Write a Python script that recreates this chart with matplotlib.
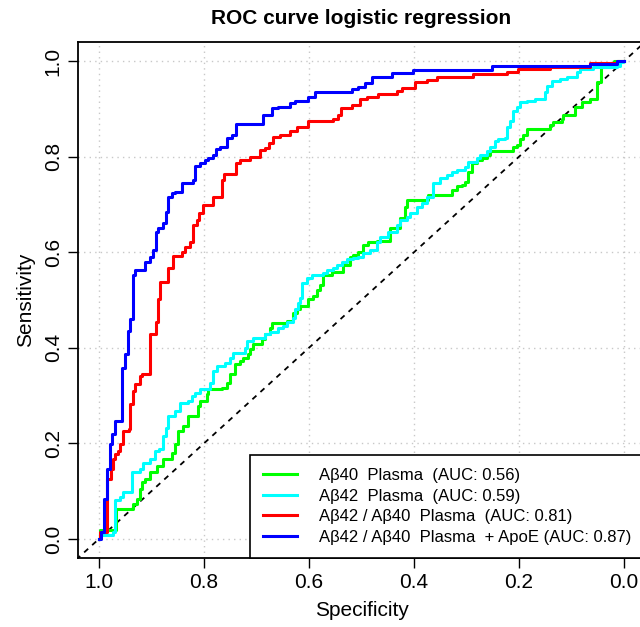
import matplotlib
matplotlib.use("Agg")
import matplotlib.pyplot as plt

# ROC curves: (specificity, sensitivity) step vertices
spec_ab40 = [1.0, 0.998, 0.968, 0.935, 0.928, 0.922, 0.918, 0.912, 0.903, 0.890,
             0.878, 0.861, 0.855, 0.850, 0.840, 0.830, 0.811, 0.808, 0.794, 0.792,
             0.766, 0.756, 0.750, 0.741, 0.731, 0.726, 0.716, 0.712, 0.707, 0.690,
             0.684, 0.674, 0.670, 0.642, 0.630, 0.623, 0.617, 0.602, 0.592, 0.585,
             0.579, 0.573, 0.556, 0.535, 0.522, 0.516, 0.507, 0.497, 0.488, 0.470,
             0.446, 0.427, 0.417, 0.413, 0.373, 0.328, 0.318, 0.309, 0.303, 0.297,
             0.290, 0.280, 0.270, 0.261, 0.255, 0.211, 0.204, 0.198, 0.192, 0.185,
             0.141, 0.135, 0.118, 0.116, 0.093, 0.080, 0.065, 0.051, 0.044, 0.027,
             0.019, 0.0]
sens_ab40 = [0.0, 0.019, 0.063, 0.072, 0.084, 0.105, 0.120, 0.126, 0.141, 0.152,
             0.168, 0.179, 0.198, 0.225, 0.236, 0.257, 0.278, 0.288, 0.303, 0.314,
             0.316, 0.326, 0.345, 0.366, 0.373, 0.379, 0.387, 0.398, 0.408, 0.419,
             0.429, 0.442, 0.451, 0.457, 0.472, 0.482, 0.488, 0.503, 0.509, 0.520,
             0.531, 0.552, 0.558, 0.573, 0.589, 0.594, 0.600, 0.615, 0.621, 0.623,
             0.651, 0.672, 0.695, 0.709, 0.720, 0.731, 0.739, 0.741, 0.747, 0.768,
             0.787, 0.794, 0.798, 0.804, 0.811, 0.821, 0.825, 0.836, 0.846, 0.857,
             0.867, 0.872, 0.878, 0.888, 0.905, 0.914, 0.920, 0.956, 0.987, 0.994,
             1.0, 1.0]

spec_ab42 = [1.0, 0.998, 0.973, 0.970, 0.960, 0.954, 0.937, 0.922, 0.916, 0.903,
             0.893, 0.886, 0.878, 0.872, 0.869, 0.855, 0.846, 0.830, 0.823, 0.817,
             0.808, 0.789, 0.783, 0.775, 0.760, 0.750, 0.745, 0.722, 0.718, 0.707,
             0.684, 0.674, 0.659, 0.650, 0.642, 0.630, 0.627, 0.621, 0.617, 0.613,
             0.604, 0.594, 0.573, 0.566, 0.554, 0.547, 0.537, 0.528, 0.516, 0.507,
             0.497, 0.484, 0.470, 0.465, 0.450, 0.432, 0.427, 0.413, 0.408, 0.394,
             0.385, 0.375, 0.364, 0.350, 0.337, 0.328, 0.318, 0.303, 0.297, 0.280,
             0.274, 0.261, 0.255, 0.246, 0.240, 0.227, 0.223, 0.217, 0.211, 0.204,
             0.198, 0.185, 0.170, 0.150, 0.147, 0.137, 0.122, 0.109, 0.090, 0.084,
             0.059, 0.013, 0.008, 0.002, 0.0]
sens_ab42 = [0.0, 0.008, 0.015, 0.082, 0.088, 0.099, 0.141, 0.147, 0.158, 0.168,
             0.183, 0.189, 0.215, 0.232, 0.257, 0.267, 0.284, 0.288, 0.299, 0.305,
             0.314, 0.326, 0.352, 0.362, 0.368, 0.379, 0.389, 0.400, 0.415, 0.421,
             0.429, 0.432, 0.442, 0.446, 0.455, 0.463, 0.482, 0.493, 0.505, 0.535,
             0.547, 0.552, 0.556, 0.562, 0.568, 0.573, 0.579, 0.585, 0.587, 0.589,
             0.598, 0.604, 0.621, 0.632, 0.642, 0.657, 0.667, 0.674, 0.682, 0.695,
             0.703, 0.716, 0.745, 0.756, 0.762, 0.768, 0.773, 0.779, 0.789, 0.798,
             0.804, 0.811, 0.821, 0.832, 0.836, 0.840, 0.863, 0.874, 0.895, 0.905,
             0.914, 0.916, 0.920, 0.935, 0.947, 0.958, 0.962, 0.966, 0.977, 0.983,
             0.987, 0.989, 0.998, 1.0, 1.0]

spec_ratio = [1.0, 0.998, 0.985, 0.977, 0.973, 0.970, 0.964, 0.960, 0.954, 0.943,
              0.941, 0.935, 0.931, 0.922, 0.918, 0.903, 0.891, 0.888, 0.884, 0.869,
              0.859, 0.842, 0.836, 0.827, 0.821, 0.813, 0.810, 0.802, 0.783, 0.766,
              0.762, 0.739, 0.731, 0.712, 0.693, 0.684, 0.676, 0.669, 0.655, 0.636,
              0.623, 0.602, 0.554, 0.545, 0.539, 0.518, 0.503, 0.490, 0.469, 0.432,
              0.423, 0.398, 0.375, 0.356, 0.288, 0.223, 0.202, 0.141, 0.065, 0.013,
              0.0]
sens_ratio = [0.0, 0.015, 0.126, 0.147, 0.168, 0.177, 0.183, 0.198, 0.225, 0.229,
              0.282, 0.309, 0.324, 0.341, 0.345, 0.429, 0.453, 0.503, 0.537, 0.568,
              0.592, 0.600, 0.611, 0.621, 0.657, 0.667, 0.682, 0.699, 0.716, 0.752,
              0.764, 0.787, 0.794, 0.800, 0.813, 0.819, 0.829, 0.842, 0.846, 0.853,
              0.863, 0.874, 0.878, 0.888, 0.901, 0.909, 0.920, 0.924, 0.931, 0.937,
              0.943, 0.956, 0.960, 0.966, 0.973, 0.977, 0.983, 0.987, 0.996, 1.0,
              1.0]

spec_apoe = [1.0, 0.996, 0.990, 0.985, 0.979, 0.975, 0.970, 0.956, 0.950, 0.945,
             0.941, 0.935, 0.931, 0.912, 0.903, 0.897, 0.891, 0.888, 0.878, 0.872,
             0.869, 0.861, 0.855, 0.842, 0.821, 0.817, 0.808, 0.798, 0.792, 0.783,
             0.777, 0.770, 0.756, 0.747, 0.739, 0.688, 0.670, 0.659, 0.636, 0.627,
             0.602, 0.589, 0.518, 0.507, 0.493, 0.480, 0.442, 0.402, 0.251, 0.065,
             0.013, 0.0]
sens_apoe = [0.0, 0.015, 0.084, 0.147, 0.198, 0.219, 0.246, 0.358, 0.387, 0.436,
             0.461, 0.552, 0.562, 0.579, 0.589, 0.604, 0.642, 0.651, 0.661, 0.684,
             0.716, 0.724, 0.726, 0.745, 0.752, 0.781, 0.787, 0.794, 0.798, 0.804,
             0.817, 0.821, 0.840, 0.846, 0.869, 0.888, 0.901, 0.905, 0.912, 0.916,
             0.924, 0.935, 0.941, 0.945, 0.954, 0.966, 0.975, 0.981, 0.989, 0.994,
             1.0, 1.0]

labels = [
    "A\u03b240  Plasma  (AUC: 0.56)",
    "A\u03b242  Plasma  (AUC: 0.59)",
    "A\u03b242 / A\u03b240  Plasma  (AUC: 0.81)",
    "A\u03b242 / A\u03b240  Plasma  + ApoE (AUC: 0.87)",
]
colors = ["#00ff00", "#00ffff", "#ff0000", "#0000ff"]
ticks = [0.0, 0.2, 0.4, 0.6, 0.8, 1.0]

plt.rcParams["font.family"] = ["Liberation Sans", "DejaVu Sans"]

fig = plt.figure(figsize=(6.4, 6.27), dpi=100)
ax = fig.add_axes([78 / 640, 69 / 627, 567 / 640, 516 / 627])

ax.set_xlim(1.04, -0.04)
ax.set_ylim(-0.04, 1.04)
ax.set_xticks(ticks)
ax.set_yticks(ticks)
ax.set_xticklabels([f"{t:.1f}" for t in ticks])
ax.set_yticklabels([f"{t:.1f}" for t in ticks], rotation=90, va="center")
ax.tick_params(labelsize=15, length=7, width=1, direction="out", pad=4)
for s in ax.spines.values():
    s.set_linewidth(1.3)

ax.grid(True, color="#c8c8c8", linestyle=(0, (1, 3)), linewidth=1)
ax.set_axisbelow(True)

ax.axline((1.0, 0.0), (0.0, 1.0), color="black", linestyle=(0, (3, 3)), linewidth=1.3)

series = [(spec_ab40, sens_ab40), (spec_ab42, sens_ab42),
          (spec_ratio, sens_ratio), (spec_apoe, sens_apoe)]
for (xs, ys), c, lab in zip(series, colors, labels):
    ax.plot(xs, ys, drawstyle="steps-post", color=c, linewidth=2.2, label=lab)

ax.set_title("ROC curve logistic regression", fontsize=15, fontweight="bold", pad=13)
ax.set_xlabel("Specificity", fontsize=15, labelpad=6)
ax.set_ylabel("Sensitivity", fontsize=15, labelpad=6)

leg = ax.legend(loc="lower right", bbox_to_anchor=(1.0, 0.0), borderaxespad=0,
                fontsize=12, fancybox=False, framealpha=1, edgecolor="black",
                handlelength=2.0, handletextpad=1.35, labelspacing=0.33,
                borderpad=0.8)
leg.get_frame().set_linewidth(1.2)

fig.savefig("out.png", dpi=100)
